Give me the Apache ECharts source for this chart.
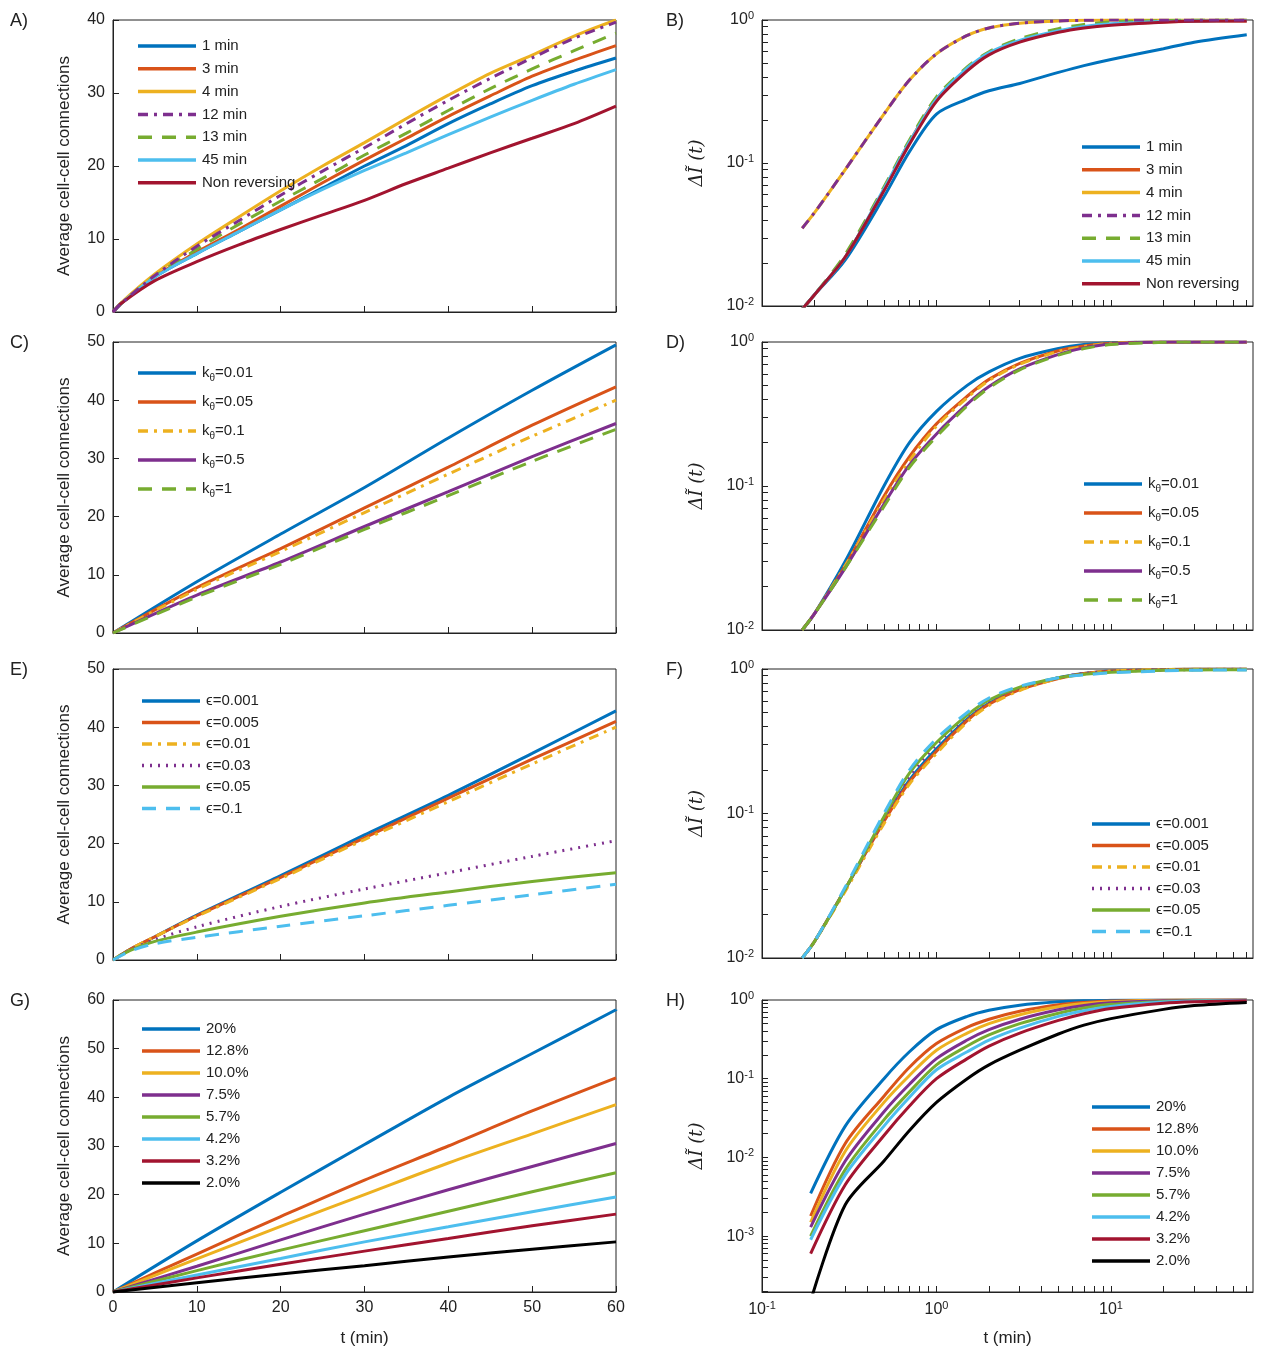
<!DOCTYPE html>
<html>
<head>
<meta charset="utf-8">
<script src="https://cdn.jsdelivr.net/npm/echarts@6/dist/echarts.min.js"></script>
<style>html,body{margin:0;padding:0;background:#fff}#main{width:1277px;height:1355px}</style>
</head>
<body>
<div id="main"></div>
<script>
// MATLAB default colours
const C = ['#0072BD', '#D95319', '#EDB120', '#7E2F8E', '#77AC30', '#4DBEEE', '#A2142F', '#000000'];

// ---- panel A / B : reversal period ----
const revNames = ['1 min', '3 min', '4 min', '12 min', '13 min', '45 min', 'Non reversing'];
const tA = [0, 1, 5, 10, 15, 20, 25, 30, 35, 40, 45, 50, 55, 60];
const a1 = [0, 1.2, 4.8, 8, 11, 14, 17, 20, 22.8, 25.8, 28.5, 31, 33, 34.8];
const a3 = [0, 1.2, 4.9, 8.2, 11.3, 14.5, 17.7, 20.8, 23.8, 26.8, 29.6, 32.3, 34.5, 36.5];
const a4 = [0, 1.3, 5.2, 9.3, 13, 16.6, 20, 23.2, 26.5, 29.7, 32.7, 35.2, 37.8, 40];
const a12 = [0, 1.2, 5, 9, 12.5, 16, 19.3, 22.5, 25.8, 29, 32, 34.8, 37.5, 39.7];
const a13 = [0, 1.2, 4.9, 8.6, 12, 15.2, 18.3, 21.5, 24.5, 27.6, 30.6, 33.3, 35.8, 38.2];
const a45 = [0, 1.2, 4.8, 8, 11, 14, 16.8, 19.4, 21.8, 24.3, 26.7, 29, 31.2, 33.2];
const aNR = [0, 1.2, 4.3, 6.9, 9.2, 11.3, 13.3, 15.3, 17.6, 19.7, 21.8, 23.8, 25.8, 28.2];

const tB = [0.17, 0.2, 0.3, 0.5, 0.7, 1, 1.5, 2, 3, 5, 7, 10, 20, 30, 60];
const b1 = [0.0095, 0.012, 0.021, 0.058, 0.12, 0.22, 0.28, 0.32, 0.36, 0.43, 0.48, 0.53, 0.63, 0.7, 0.79];
const b3 = [0.0095, 0.012, 0.022, 0.065, 0.14, 0.28, 0.45, 0.58, 0.71, 0.83, 0.89, 0.93, 0.97, 0.98, 0.985];
const b4 = [0.035, 0.045, 0.09, 0.22, 0.38, 0.58, 0.78, 0.88, 0.95, 0.985, 0.995, 1, 1, 1, 1];
const b12 = [0.035, 0.045, 0.09, 0.22, 0.38, 0.58, 0.78, 0.88, 0.95, 0.985, 0.995, 1, 1, 1, 1];
const b13 = [0.0095, 0.012, 0.023, 0.068, 0.145, 0.29, 0.47, 0.6, 0.74, 0.87, 0.93, 0.97, 0.99, 1, 1];
const b45 = [0.0095, 0.012, 0.022, 0.066, 0.14, 0.28, 0.46, 0.59, 0.72, 0.84, 0.9, 0.94, 0.975, 0.985, 0.99];
const bNR = [0.0095, 0.012, 0.022, 0.064, 0.135, 0.27, 0.44, 0.57, 0.7, 0.82, 0.88, 0.92, 0.965, 0.98, 0.985];

// ---- panel C / D : k_theta ----
const kNames = ['0.01', '0.05', '0.1', '0.5', '1'];
const tC = [0, 10, 20, 30, 40, 50, 60];
const c1 = [0, 8.8, 17, 25, 33.5, 41.7, 49.5];
const c2 = [0, 7.8, 14.5, 21.5, 28.5, 35.7, 42.3];
const c3 = [0, 7.5, 14, 20.7, 27.3, 33.8, 40];
const c4 = [0, 6.5, 12.2, 18.3, 24.3, 30.3, 36];
const c5 = [0, 6.2, 11.8, 17.8, 23.6, 29.5, 35];
const d1 = [0.01, 0.013, 0.03, 0.1, 0.2, 0.33, 0.5, 0.62, 0.77, 0.9, 0.96, 0.99, 1, 1, 1];
const d2 = [0.01, 0.013, 0.028, 0.085, 0.16, 0.27, 0.42, 0.55, 0.71, 0.87, 0.94, 0.98, 1, 1, 1];
const d3 = [0.01, 0.013, 0.028, 0.08, 0.15, 0.26, 0.41, 0.54, 0.7, 0.86, 0.93, 0.98, 1, 1, 1];
const d4 = [0.01, 0.013, 0.027, 0.075, 0.14, 0.23, 0.37, 0.49, 0.65, 0.82, 0.91, 0.97, 1, 1, 1];
const d5 = [0.01, 0.013, 0.027, 0.072, 0.135, 0.22, 0.36, 0.48, 0.64, 0.81, 0.9, 0.96, 0.995, 1, 1];

// ---- panel E / F : epsilon ----
const eNames = ['ϵ=0.001', 'ϵ=0.005', 'ϵ=0.01', 'ϵ=0.03', 'ϵ=0.05', 'ϵ=0.1'];
const tE = [0, 2, 5, 10, 20, 30, 40, 50, 60];
const e1 = [0, 1.8, 4, 7.7, 14.5, 21.5, 28.3, 35.5, 42.8];
const e2 = [0, 1.8, 4, 7.6, 14.2, 21, 27.8, 34.5, 41];
const e3 = [0, 1.8, 4, 7.5, 14, 20.7, 27.2, 33.7, 40];
const e4 = [0, 1.7, 3.5, 5.7, 9.2, 12.2, 15, 17.8, 20.5];
const e5 = [0, 1.6, 3.2, 4.8, 7.5, 9.8, 11.7, 13.5, 15];
const e6 = [0, 1.5, 2.8, 3.9, 5.8, 7.6, 9.4, 11.2, 13];
const f1 = [0.01, 0.013, 0.03, 0.09, 0.17, 0.28, 0.45, 0.58, 0.73, 0.87, 0.93, 0.97, 0.99, 1, 1];
const f2 = [0.01, 0.013, 0.03, 0.088, 0.165, 0.27, 0.44, 0.57, 0.72, 0.86, 0.93, 0.97, 0.99, 1, 1];
const f3 = [0.01, 0.013, 0.029, 0.085, 0.16, 0.26, 0.43, 0.56, 0.71, 0.86, 0.92, 0.97, 0.99, 1, 1];
const f4 = [0.01, 0.013, 0.03, 0.092, 0.18, 0.3, 0.47, 0.6, 0.74, 0.87, 0.93, 0.96, 0.985, 0.99, 1];
const f5 = [0.01, 0.013, 0.03, 0.095, 0.19, 0.31, 0.48, 0.61, 0.75, 0.87, 0.92, 0.95, 0.98, 0.985, 0.99];
const f6 = [0.01, 0.013, 0.031, 0.1, 0.2, 0.33, 0.5, 0.63, 0.76, 0.87, 0.91, 0.94, 0.97, 0.98, 0.985];

// ---- panel G / H : density ----
const pNames = ['20%', '12.8%', '10.0%', '7.5%', '5.7%', '4.2%', '3.2%', '2.0%'];
const tG = [0, 10, 20, 30, 40, 50, 60];
const g1 = [0, 10.5, 20.5, 30.3, 40, 49, 58];
const g2 = [0, 7.8, 15.5, 23, 30, 37.2, 44];
const g3 = [0, 6.8, 13.5, 20, 26.5, 32.5, 38.5];
const g4 = [0, 5.3, 10.7, 16, 21, 25.8, 30.5];
const g5 = [0, 4.4, 8.6, 12.6, 16.6, 20.6, 24.5];
const g6 = [0, 3.5, 6.9, 10.3, 13.4, 16.5, 19.5];
const g7 = [0, 2.9, 5.7, 8.4, 11, 13.6, 16];
const g8 = [0, 1.9, 3.7, 5.4, 7.2, 8.8, 10.3];
const tH = [0.19, 0.3, 0.5, 0.7, 1, 1.5, 2, 3, 5, 7, 10, 20, 30, 60];
const h1 = [0.0035, 0.025, 0.1, 0.22, 0.42, 0.62, 0.74, 0.86, 0.95, 0.98, 0.99, 1, 1, 1];
const h2 = [0.0018, 0.015, 0.06, 0.14, 0.28, 0.45, 0.57, 0.72, 0.87, 0.93, 0.97, 0.995, 1, 1];
const h3 = [0.0015, 0.012, 0.05, 0.11, 0.23, 0.38, 0.5, 0.65, 0.82, 0.9, 0.95, 0.99, 1, 1];
const h4 = [0.0013, 0.009, 0.038, 0.085, 0.18, 0.31, 0.42, 0.57, 0.75, 0.85, 0.92, 0.98, 0.99, 1];
const h5 = [0.001, 0.007, 0.03, 0.068, 0.15, 0.26, 0.36, 0.5, 0.68, 0.79, 0.88, 0.96, 0.98, 0.995];
const h6 = [0.0009, 0.006, 0.025, 0.058, 0.13, 0.22, 0.31, 0.44, 0.62, 0.73, 0.83, 0.94, 0.97, 0.99];
const h7 = [0.0006, 0.0045, 0.019, 0.045, 0.1, 0.18, 0.26, 0.38, 0.55, 0.67, 0.78, 0.91, 0.95, 0.98];
const h8 = [0.00015, 0.0025, 0.009, 0.022, 0.05, 0.1, 0.15, 0.23, 0.37, 0.48, 0.58, 0.76, 0.85, 0.93];

const FONT = 'Helvetica, Arial, "Liberation Sans", sans-serif';
const sup = { sup: { fontSize: 11, verticalAlign: 'top', padding: [0, 0, 8, 0], fontFamily: FONT, color: '#222' } };
const powLabel = v => Math.abs(v - Math.round(v)) < 1e-6 ? '10{sup|' + Math.round(v) + '}' : '';
// log-decade tick positions (major + minor)
const logTicks = (lo, hi) => {
  const out = [];
  for (let d = Math.floor(lo); d <= hi; d++) for (let m = 1; m <= 9; m++) {
    const v = d + Math.log10(m);
    if (v >= lo - 1e-9 && v <= hi + 1e-9) out.push(v);
  }
  return out;
};
const majors = (lo, hi) => { const o = []; for (let d = Math.ceil(lo); d <= hi; d++) o.push(d); return o; };

const grids = [], xAxes = [], yAxes = [], series = [], gfx = [];
const leftX = 113, leftW = 503, rightX = 762, rightW = 491;
const axLine = { show: true, onZero: false, lineStyle: { color: '#222' } };

function panel(p) {
  const i = grids.length;
  grids.push({ left: p.x, top: p.top, width: p.w, height: p.h, show: true, borderColor: '#222', borderWidth: 1, backgroundColor: '#fff' });
  const tick = { show: true, inside: true, length: 6, lineStyle: { color: '#222' } };
  const xname = { name: p.xlab ? 't (min)' : '', nameLocation: 'middle', nameGap: 38, nameTextStyle: { fontSize: 17, color: '#222', fontFamily: FONT } };
  if (p.log) {
    const xmax = 1.814;
    xAxes.push(Object.assign({ gridIndex: i, type: 'value', min: -1, max: xmax,
      axisLine: axLine, axisTick: Object.assign({}, tick, { customValues: logTicks(-1, xmax) }), splitLine: { show: false },
      axisLabel: { show: !!p.xlab, customValues: majors(-1, xmax), formatter: powLabel, fontSize: 16, color: '#222', fontFamily: FONT, rich: sup } }, xname));
    yAxes.push({ gridIndex: i, type: 'value', min: p.ymin, max: 0,
      axisLine: axLine, axisTick: Object.assign({}, tick, { customValues: logTicks(p.ymin, 0) }), splitLine: { show: false },
      axisLabel: { customValues: majors(p.ymin, 0), formatter: powLabel, fontSize: 16, color: '#222', fontFamily: FONT, rich: sup },
      name: 'ΔĨ (t)', nameLocation: 'middle', nameGap: 56,
      nameTextStyle: { fontSize: 18, color: '#222', fontFamily: '"DejaVu Serif", serif', fontStyle: 'italic' } });
  } else {
    xAxes.push(Object.assign({ gridIndex: i, type: 'value', min: 0, max: 60, interval: 10,
      axisLine: axLine, axisTick: tick, splitLine: { show: false },
      axisLabel: { show: !!p.xlab, fontSize: 16, color: '#222', fontFamily: FONT } }, xname));
    yAxes.push({ gridIndex: i, type: 'value', min: 0, max: p.ymax, interval: 10,
      axisLine: axLine, axisTick: tick, splitLine: { show: false },
      axisLabel: { fontSize: 16, color: '#222', fontFamily: FONT },
      name: 'Average cell-cell connections', nameLocation: 'middle', nameGap: 40,
      nameTextStyle: { fontSize: 17, color: '#222', fontFamily: FONT } });
  }
  p.lines.forEach((ln, k) => {
    const data = p.t.map((t, j) => p.log ? [Math.log10(t), Math.log10(ln.v[j])] : [t, ln.v[j]]);
    series.push({ name: p.letter + ':' + k, type: 'line', xAxisIndex: i, yAxisIndex: i, data: data, symbol: 'none', smooth: 0.3,
      z: ln.z || 2, lineStyle: { color: ln.c, width: 3, type: ln.d || 'solid' } });
    // legend entry
    const y = p.ly + k * p.gap;
    gfx.push({ type: 'line', shape: { x1: p.lx, y1: y, x2: p.lx + 58, y2: y }, z: 10,
      style: { stroke: ln.c, lineWidth: 3.5, lineDash: Array.isArray(ln.d) ? ln.d : null } });
    gfx.push({ type: 'text', x: p.lx + 64, y: y, z: 10,
      style: { text: p.labels[k], fontSize: 15, fill: '#222', fontFamily: FONT, verticalAlign: 'middle',
        rich: { s: { fontSize: 10, fill: '#222', fontFamily: FONT, padding: [10, 0, 0, 0] } } } });
  });
  gfx.push({ type: 'text', left: p.x - (p.log ? 96 : 103), top: p.top - 8, style: { text: p.letter + ')', fontSize: 18, fill: '#222', fontFamily: FONT } });
}

const dashD = [10, 6, 3, 6], dashL = [14, 10];
panel({ letter: 'A', x: leftX, w: leftW, top: 20, h: 292, ymax: 40, t: tA, lx: 138, ly: 46, gap: 22.8, labels: revNames,
  lines: [{ v: a1, c: C[0] }, { v: a3, c: C[1] }, { v: a4, c: C[2] }, { v: a12, c: C[3], d: dashD, z: 3 }, { v: a13, c: C[4], d: dashL }, { v: a45, c: C[5] }, { v: aNR, c: C[6] }] });
panel({ letter: 'B', log: true, x: rightX, w: rightW, top: 20, h: 286, ymin: -2, t: tB, lx: 1082, ly: 147, gap: 22.8, labels: revNames,
  lines: [{ v: b1, c: C[0] }, { v: b3, c: C[1] }, { v: b4, c: C[2] }, { v: b12, c: C[3], d: dashD, z: 3 }, { v: b13, c: C[4], d: dashL }, { v: b45, c: C[5] }, { v: bNR, c: C[6] }] });
const kLab = kNames.map(k => 'k{s|θ}=' + k);
panel({ letter: 'C', x: leftX, w: leftW, top: 342, h: 291, ymax: 50, t: tC, lx: 138, ly: 373, gap: 29, labels: kLab,
  lines: [{ v: c1, c: C[0] }, { v: c2, c: C[1] }, { v: c3, c: C[2], d: dashD }, { v: c4, c: C[3] }, { v: c5, c: C[4], d: dashL }] });
panel({ letter: 'D', log: true, x: rightX, w: rightW, top: 342, h: 288, ymin: -2, t: tB, lx: 1084, ly: 484, gap: 29, labels: kLab,
  lines: [{ v: d1, c: C[0] }, { v: d2, c: C[1] }, { v: d3, c: C[2], d: dashD }, { v: d4, c: C[3] }, { v: d5, c: C[4], d: dashL }] });
panel({ letter: 'E', x: leftX, w: leftW, top: 669, h: 291, ymax: 50, t: tE, lx: 142, ly: 701, gap: 21.5, labels: eNames,
  lines: [{ v: e1, c: C[0] }, { v: e2, c: C[1] }, { v: e3, c: C[2], d: dashD }, { v: e4, c: C[3], d: [2, 6] }, { v: e5, c: C[4] }, { v: e6, c: C[5], d: dashL }] });
panel({ letter: 'F', log: true, x: rightX, w: rightW, top: 669, h: 289, ymin: -2, t: tB, lx: 1092, ly: 824, gap: 21.5, labels: eNames,
  lines: [{ v: f1, c: C[0] }, { v: f2, c: C[1] }, { v: f3, c: C[2], d: dashD }, { v: f4, c: C[3], d: [2, 6] }, { v: f5, c: C[4] }, { v: f6, c: C[5], d: dashL }] });
panel({ letter: 'G', x: leftX, w: leftW, top: 1000, h: 292, ymax: 60, t: tG, lx: 142, ly: 1029, gap: 22, labels: pNames, xlab: true,
  lines: [g1, g2, g3, g4, g5, g6, g7, g8].map((v, k) => ({ v: v, c: C[k] })) });
panel({ letter: 'H', log: true, x: rightX, w: rightW, top: 1000, h: 292, ymin: -3.71, t: tH, lx: 1092, ly: 1107, gap: 22, labels: pNames, xlab: true,
  lines: [h1, h2, h3, h4, h5, h6, h7, h8].map((v, k) => ({ v: v, c: C[k] })) });

const chart = echarts.init(document.getElementById('main'));
chart.setOption({
  animation: false,
  backgroundColor: '#fff',
  grid: grids, xAxis: xAxes, yAxis: yAxes, series: series,
  graphic: gfx
});
</script>
</body>
</html>
